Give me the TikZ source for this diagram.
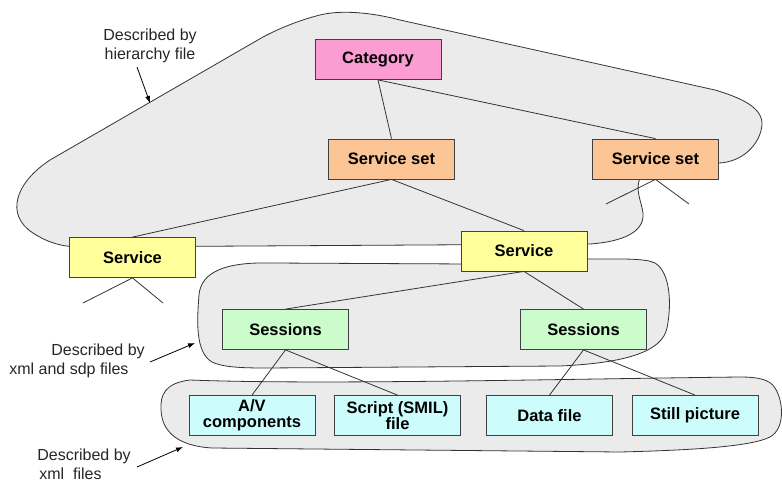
\documentclass[tikz,border=0pt]{standalone}
\usepackage{fontspec}
\setmainfont{Liberation Sans}
\usetikzlibrary{arrows.meta}

\definecolor{catpink}{HTML}{FB9DD2}
\definecolor{setorange}{HTML}{FBC596}
\definecolor{srvyellow}{HTML}{FFFF9C}
\definecolor{sesgreen}{HTML}{CCFCCC}
\definecolor{compcyan}{HTML}{CCFCFC}
\definecolor{blobgray}{HTML}{EBEBEB}

\begin{document}
\begin{tikzpicture}[x=1pt,y=-1pt,
    box/.style={draw=black!75, line width=0.8pt, minimum width=126pt, minimum height=40pt,
        inner sep=1pt, align=center, font=\fontsize{16.5}{16}\selectfont\bfseries},
    blob/.style={draw=black!80, fill=blobgray, line width=0.8pt},
    link/.style={draw=black!80, line width=0.8pt},
    note/.style={font=\fontsize{16}{19}\selectfont, text=black!85},
    pointer/.style={-{Latex[length=7pt,width=5pt]}, line width=0.8pt}]
    \useasboundingbox (0,0) rectangle (782,482);

    % grouping outlines
    \draw[blob] (263,37) -- (50,160) .. controls (15,183) and (5,215) .. (33,233)
        .. controls (45,241) and (60,247) .. (80,247) -- (590,244)
        .. controls (618,242) and (645,234) .. (643,213)
        .. controls (641,200) and (635,190) .. (640,178) -- (700,165) -- (719,163)
        .. controls (742,162) and (760,145) .. (762,125)
        .. controls (763,108) and (742,98) .. (715,90) -- (400,20)
        .. controls (370,12) and (340,10) .. (320,15)
        .. controls (300,20) and (280,28) .. (263,37) -- cycle;
    \draw[blob] (470,264) -- (270,263) .. controls (225,262) and (201,272) .. (199,295)
        .. controls (197,320) and (195,352) .. (212,362)
        .. controls (222,367) and (240,368) .. (265,368) -- (560,366)
        .. controls (625,363) and (662,352) .. (667,328)
        .. controls (672,303) and (670,272) .. (655,263)
        .. controls (645,258) and (620,259) .. (580,259) -- cycle;
    \draw[blob] (190,380) .. controls (165,383) and (160,395) .. (161,410)
        .. controls (162,432) and (178,446) .. (212,448) -- (620,452)
        .. controls (700,450) and (752,446) .. (770,437)
        .. controls (786,428) and (783,400) .. (775,388)
        .. controls (770,380) and (760,377) .. (740,377)
        .. controls (560,379) and (320,385) .. (190,380) -- cycle;

    % hierarchy
    \node[box, fill=catpink] (cat) at (378,59.5) {Category};
    \node[box, fill=setorange] (sset1) at (391.5,159) {Service set};
    \node[box, fill=setorange] (sset2) at (655.5,159) {Service set};
    \node[box, fill=srvyellow] (srv1) at (132.5,257.5) {Service};
    \node[box, fill=srvyellow] (srv2) at (524,251) {Service};
    \node[box, fill=sesgreen] (ses1) at (285.5,329.5) {Sessions};
    \node[box, fill=sesgreen] (ses2) at (583.5,329.5) {Sessions};
    \node[box, fill=compcyan] (av) at (252,415.5) {A/V\\components};
    \node[box, fill=compcyan] (smil) at (397.5,415.5) {Script (SMIL)\\file};
    \node[box, fill=compcyan] (data) at (549.5,415.5) {Data file};
    \node[box, fill=compcyan] (still) at (695,415.5) {Still picture};

    \draw[link] (cat.south) -- (sset1.north);
    \draw[link] (cat.south) -- (sset2.north);
    \draw[link] (sset1.south) -- (srv1.north);
    \draw[link] (sset1.south) -- (srv2.north);
    \draw[link] (srv2.south) -- (ses1.north);
    \draw[link] (srv2.south) -- (ses2.north);
    \draw[link] (ses1.south) -- (av.north);
    \draw[link] (ses1.south) -- (smil.north);
    \draw[link] (ses2.south) -- (data.north);
    \draw[link] (ses2.south) -- (still.north);

    % open branches
    \coordinate (stub1a) at (83,303);
    \coordinate (stub1b) at (163,303);
    \coordinate (stub2a) at (606,204);
    \coordinate (stub2b) at (689,204);
    \draw[link] (srv1.south) -- (stub1a);
    \draw[link] (srv1.south) -- (stub1b);
    \draw[link] (sset2.south) -- (stub2a);
    \draw[link] (sset2.south) -- (stub2b);

    % notes
    \node[note, align=center] (lblhier) at (150,46) {Described by\\hierarchy file};
    \node[note, align=left] (lblsdp) at (77,361) {\hspace*{42pt}Described by\\xml and sdp files};
    \node[note, align=left, inner sep=1pt] (lblxml) at (84,464) {Described by\\\hspace*{2pt}xml\ \ files};

    \coordinate (from1) at (137,67);
    \coordinate (tip1) at (150,103);
    \coordinate (from2) at (150,362);
    \coordinate (tip2) at (195,343);
    \coordinate (from3) at (137,467);
    \coordinate (tip3) at (183,447);
    \draw[pointer] (from1) -- (tip1);
    \draw[pointer] (from2) -- (tip2);
    \draw[pointer] (from3) -- (tip3);
\end{tikzpicture}
\end{document}
